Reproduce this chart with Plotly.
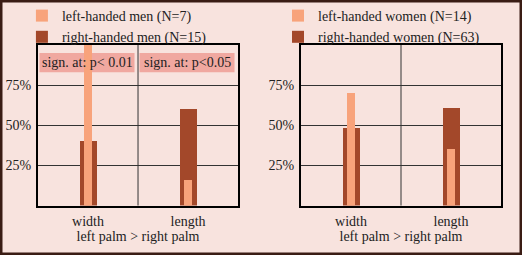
import plotly.graph_objects as go
from plotly.subplots import make_subplots

categories = ["width", "length"]
men_left = [100, 16]      # left-handed men (N=7), % with left palm > right palm
men_right = [40, 60]      # right-handed men (N=15)
women_left = [70, 35]     # left-handed women (N=14)
women_right = [48, 61]    # right-handed women (N=63)
sig_labels = ["sign. at: p< 0.01", "sign. at: p<0.05"]
y_ticks = [25, 50, 75]
y_ticktext = ["25%", "50%", "75%"]

LIGHT = "#f8a37b"
DARK = "#a3482a"
BG = "#f8e3de"
FONT = "Liberation Serif"
TXT = "#222222"

fig = make_subplots(rows=1, cols=2)

def add_panel(col, left_vals, right_vals, left_name, right_name, legend):
    fig.add_trace(go.Bar(x=categories, y=right_vals, name=right_name, marker_color=DARK,
                         marker_line_width=0, width=0.17, legend=legend, legendrank=2),
                  row=1, col=col)
    fig.add_trace(go.Bar(x=categories, y=left_vals, name=left_name, marker_color=LIGHT,
                         marker_line_width=0, width=0.085, legend=legend, legendrank=1),
                  row=1, col=col)

add_panel(1, men_left, men_right, "left-handed men (N=7)", "right-handed men (N=15)", "legend")
add_panel(2, women_left, women_right, "left-handed women (N=14)", "right-handed women (N=63)", "legend2")

ydom = [0.194, 0.8235]
xdoms = [[0.0728, 0.456], [0.5766, 0.9598]]
for i, (xd) in enumerate(xdoms):
    n = "" if i == 0 else "2"
    fig.update_layout(**{
        f"xaxis{n}": dict(domain=xd, range=[-0.5, 1.5], showline=True, mirror=True,
                          linecolor="black", linewidth=2, showgrid=False, ticks="",
                          layer="below traces", ticklabelstandoff=2,
                          tickfont=dict(family=FONT, size=14, color=TXT),
                          title=dict(text="left palm > right palm", standoff=0,
                                     font=dict(family=FONT, size=14, color=TXT))),
        f"yaxis{n}": dict(domain=ydom, range=[0, 100], showline=True, mirror=True,
                          linecolor="black", linewidth=2, showgrid=True, gridcolor="#333333",
                          gridwidth=1, tickvals=y_ticks, ticktext=y_ticktext, ticks="",
                          layer="below traces", zeroline=False, ticklabelstandoff=2,
                          tickfont=dict(family=FONT, size=14, color=TXT)),
    })
    xref = "x" if i == 0 else "x2"
    yref = "y" if i == 0 else "y2"
    fig.add_shape(type="line", xref=xref, yref=f"{yref} domain", x0=0.5, x1=0.5, y0=0, y1=1,
                  line=dict(color="#333333", width=1), layer="below")

# significance labels (men panel)
for j, lab in enumerate(sig_labels):
    fig.add_shape(type="rect", xref="x", yref="y", x0=j - 0.485, x1=j + 0.465, y0=83, y1=95,
                  fillcolor="#f0a8a0", line_width=0, layer="below")
    fig.add_annotation(x=j - 0.01, y=89, xref="x", yref="y", text=lab, showarrow=False,
                       font=dict(family=FONT, size=14, color=TXT))

fig.update_layout(
    width=522, height=255, margin=dict(l=0, r=0, t=0, b=0),
    paper_bgcolor=BG, plot_bgcolor=BG, barmode="overlay", bargap=0,
    font=dict(family=FONT, size=14, color=TXT),
    legend=dict(x=0.042, y=1.0, xanchor="left", yanchor="top", bgcolor="rgba(0,0,0,0)",
                font=dict(family=FONT, size=14, color=TXT), itemwidth=30,
                tracegroupgap=0),
    legend2=dict(x=0.5326, y=1.0, xanchor="left", yanchor="top", bgcolor="rgba(0,0,0,0)",
                 font=dict(family=FONT, size=14, color=TXT), itemwidth=30,
                 tracegroupgap=0),
    showlegend=True,
)
fig.add_shape(type="rect", xref="paper", yref="paper", x0=0, x1=1, y0=0, y1=1,
              line=dict(color="#3a1c14", width=5), layer="above")

fig.write_html("out.html")
